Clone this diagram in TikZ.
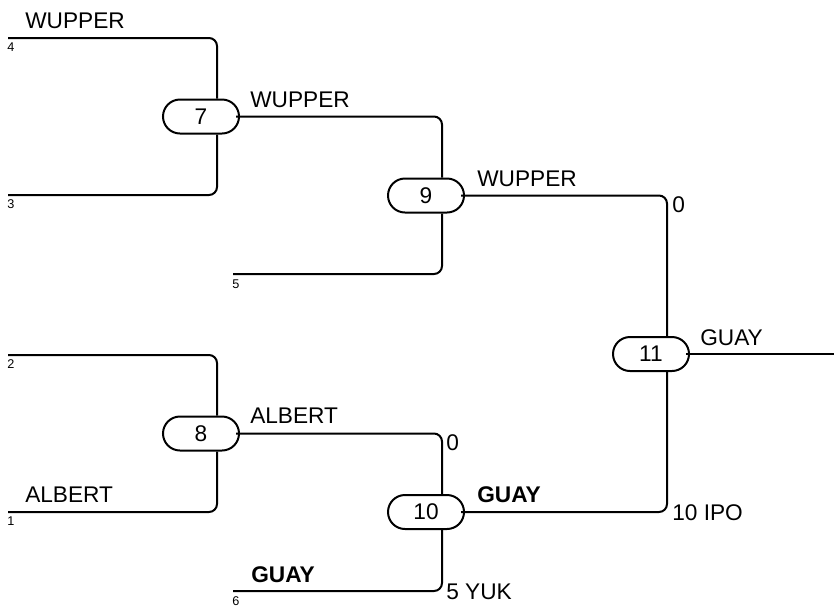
\documentclass[tikz,border=0pt]{standalone}
\usepackage{fontspec}
\setmainfont{Liberation Sans}
\usetikzlibrary{shapes.misc}

\begin{document}
\begin{tikzpicture}[x=0.75pt,y=-0.75pt,
   wire/.style={line width=1.5pt,rounded corners=6pt},
   match/.style={draw,line width=1.5pt,rounded rectangle,minimum width=57pt,
                 minimum height=25.5pt,inner sep=0pt,font=\fontsize{17}{20}\selectfont},
   player/.style={anchor=base west,inner sep=0pt,font=\fontsize{17}{20}\selectfont},
   seed/.style={anchor=base west,inner sep=0pt,font=\fontsize{9.5}{11}\selectfont}]
  \useasboundingbox (0,0) rectangle (834,608);
  % entry lines
  \coordinate (l4) at (8,38);
  \coordinate (l3) at (8,195);
  \coordinate (l5) at (233,274);
  \coordinate (l2) at (8,355);
  \coordinate (l1) at (8,512);
  \coordinate (l6) at (233,591);
  \coordinate (out) at (834,354);
  % matches
  \node[match] (m7) at (201,116.5) {7};
  \node[match] (m8) at (201,433.5) {8};
  \node[match] (m9) at (426,195.5) {9};
  \node[match] (m10) at (426,512) {10};
  \node[match] (m11) at (651,354) {11};
  % wires
  \draw[wire] (l4) -| ([xshift=12pt]m7.north);
  \draw[wire] (l3) -| ([xshift=12pt]m7.south);
  \draw[wire] (l2) -| ([xshift=12pt]m8.north);
  \draw[wire] (l1) -| ([xshift=12pt]m8.south);
  \draw[wire] ([xshift=-3pt]m7.east) -| ([xshift=12pt]m9.north);
  \draw[wire] (l5) -| ([xshift=12pt]m9.south);
  \draw[wire] ([xshift=-3pt]m8.east) -| ([xshift=12pt]m10.north);
  \draw[wire] (l6) -| ([xshift=12pt]m10.south);
  \draw[wire] ([xshift=-3pt]m9.east) -| ([xshift=12pt]m11.north);
  \draw[wire] ([xshift=-3pt]m10.east) -| ([xshift=12pt]m11.south);
  \draw[wire] ([xshift=-3pt]m11.east) -- (out);
  % seeds
  \node[seed] (s4) at (7,51) {4};
  \node[seed] (s3) at (7,208) {3};
  \node[seed] (s5) at (232,288) {5};
  \node[seed] (s2) at (7,368) {2};
  \node[seed] (s1) at (7,525) {1};
  \node[seed] (s6) at (232,605) {6};
  % names
  \node[player] (p4) at (25,28) {WUPPER};
  \node[player] (p1) at (25,502) {ALBERT};
  \node[player] (p6) at (251,582) {\textbf{GUAY}};
  \node[player] (w7) at (250,107) {WUPPER};
  \node[player] (w8) at (250,423) {ALBERT};
  \node[player] (w9) at (477,186) {WUPPER};
  \node[player] (w10) at (477,502) {\textbf{GUAY}};
  \node[player] (w11) at (700,345) {GUAY};
  % scores
  \node[player] (c9) at (672,212) {0};
  \node[player] (c8) at (446,450) {0};
  \node[player] (c10) at (672,520) {10 IPO};
  \node[player] (c6) at (446,599) {5 YUK};
\end{tikzpicture}
\end{document}
